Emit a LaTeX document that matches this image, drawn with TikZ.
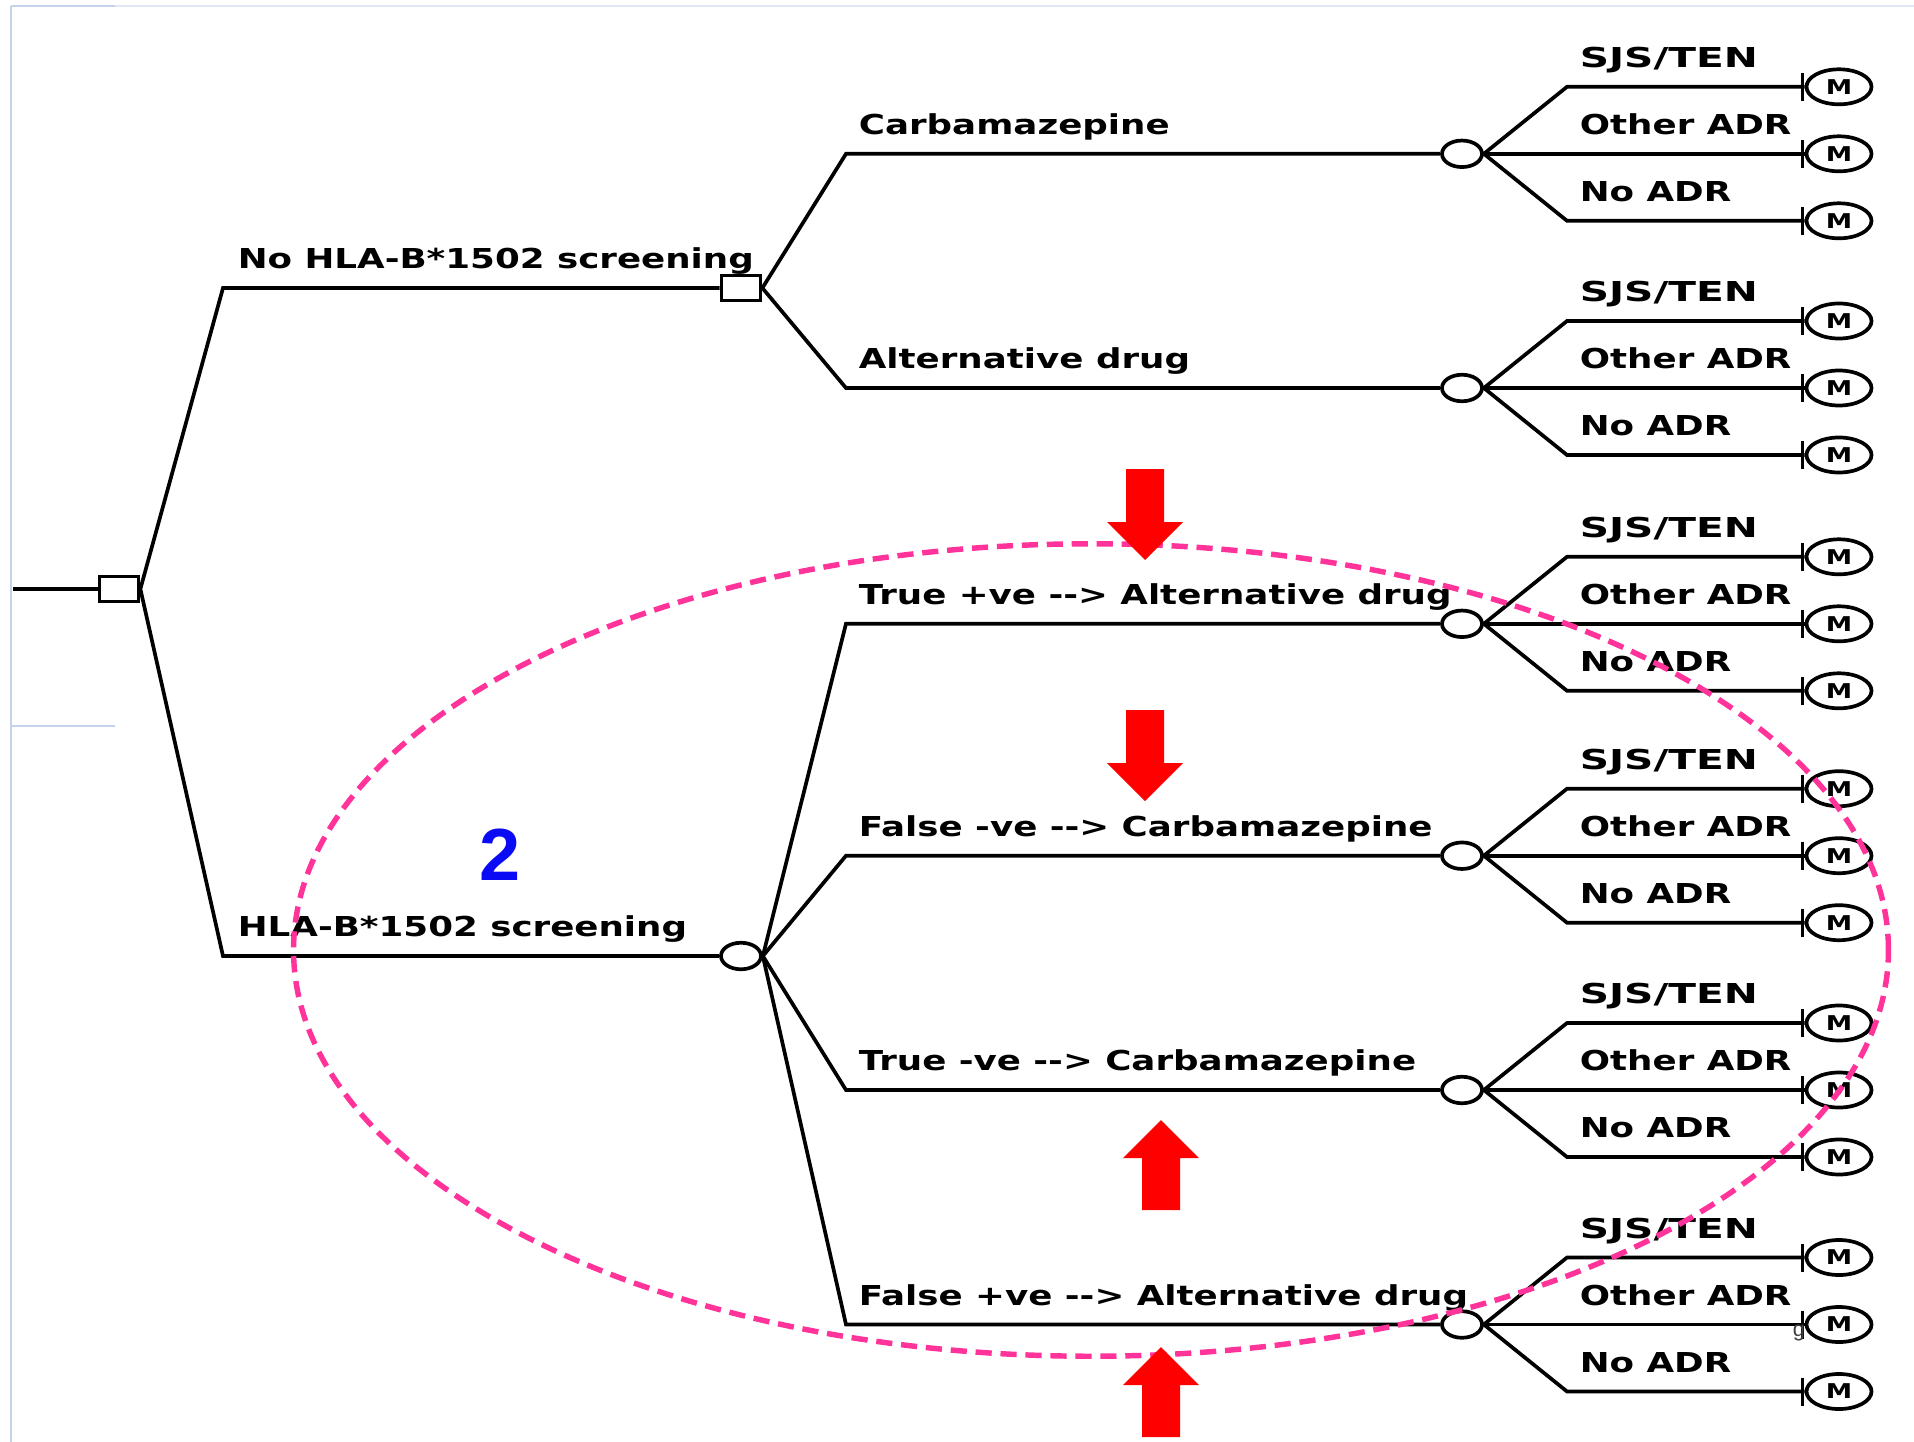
\documentclass[tikz,border=0pt]{standalone}
\usepackage{fontspec}
\usetikzlibrary{shapes.geometric}
\newfontfamily\lblfam{DejaVu Sans}[FakeStretch=1.3]
\newfontfamily\numfam{Liberation Sans}
\newcommand\lblfnt{\lblfam\bfseries\fontsize{7.8pt}{9pt}\selectfont}
\newcommand\trmfnt{\lblfam\bfseries\fontsize{5.8pt}{7pt}\selectfont}
\definecolor{framec}{RGB}{196,210,236}
\definecolor{framel}{RGB}{224,230,243}
\definecolor{pinkc}{RGB}{255,51,153}
\definecolor{bluec}{RGB}{10,10,245}
\begin{document}
\begin{tikzpicture}[x=0.01cm,y=-0.01cm,line width=1.05pt,
  dec/.style={draw,rectangle,minimum width=0.39cm,minimum height=0.25cm,inner sep=0pt},
  chn/.style={draw,ellipse,minimum width=0.40cm,minimum height=0.265cm,inner sep=0pt},
  term/.style={draw,ellipse,minimum width=0.65cm,minimum height=0.35cm,inner sep=0pt,font=\trmfnt},
  lab/.style={anchor=base west,inner sep=0pt,font=\lblfnt},
  redarrow/.style={fill=red,draw=none}]
\useasboundingbox (0,0) rectangle (1914,1442);
% faint frame lines
\draw[framel,line width=0.6pt] (11,6) -- (1914,6);
\draw[framec,line width=0.6pt] (11,6) -- (115,6);
\draw[framec,line width=0.6pt] (11,6) -- (11,1442);
\draw[framec,line width=0.6pt] (11,726) -- (115,726);

% root decision
\coordinate (start) at (13,589);
\node[dec] (root) at (119,589) {};
\draw (start) -- (root);
\node[dec] (d1) at (741,288) {};
\node[chn] (s2) at (741,956) {};
\coordinate (k1) at (223,288);
\coordinate (k2) at (223,956);
\draw (root.east) -- (k1) -- (d1);
\draw (root.east) -- (k2) -- (s2);
\node[lab] (ln1) at (236,268.5) {No HLA-B*1502 screening};
\node[lab] (ln2) at (236,936.5) {HLA-B*1502 screening};

% chance nodes and outcomes
\foreach \i/\y in {1/153.8,2/388,3/623.8,4/855.7,5/1090,6/1324.5}{
  \node[chn] (c\i) at (1462,\y) {};
  \coordinate (e\i) at (846,\y);
  \foreach \j/\dy/\txt in {a/-67/{\scalebox{1.14}[1]{SJS/TEN}},b/0/{Other ADR},c/67/{No ADR}}{
    \node[term] (t\i\j) at (1839,{\y+\dy}) {M};
    \coordinate (f\i\j) at (1567,{\y+\dy});
    \draw (c\i.east) -- (f\i\j) -- (t\i\j.west);
    \draw (t\i\j.west) +(-2,-14) -- +(-2,14);
    \node[lab] (l\i\j) at (1578,{\y+\dy-19.5}) {\txt};
  }
}
\draw (d1.east) -- (e1) -- (c1);
\draw (d1.east) -- (e2) -- (c2);
\draw (s2.east) -- (e3) -- (c3);
\draw (s2.east) -- (e4) -- (c4);
\draw (s2.east) -- (e5) -- (c5);
\draw (s2.east) -- (e6) -- (c6);

\node[lab] (m1) at (857,134.3) {Carbamazepine};
\node[lab] (m2) at (857,368.5) {Alternative drug};
\node[lab] (m3) at (857,604.3) {True +ve -\kern0pt-\kern0pt> Alternative drug};
\node[lab] (m4) at (857,836.2) {False -ve -\kern0pt-\kern0pt> Carbamazepine};
\node[lab] (m5) at (857,1070.5) {True -ve -\kern0pt-\kern0pt> Carbamazepine};
\node[lab] (m6) at (857,1305) {False +ve -\kern0pt-\kern0pt> Alternative drug};

% stray small g
\node[anchor=base west,inner sep=0pt,text=black!75,font=\numfam\fontsize{6.2pt}{7pt}\selectfont] (gg) at (1791,1336) {g};

% blue number
\node[anchor=base,inner sep=0pt,text=bluec,font=\numfam\bfseries\fontsize{21pt}{24pt}\selectfont] (num) at (500,880) {2};

% pink dashed ellipse
\draw[pinkc,line width=1.55pt,dash pattern=on 4.6pt off 2.5pt] (1091,950) ellipse [x radius=7.97cm, y radius=4.06cm];

% red arrows (down)
\foreach \cx/\yt in {1145/469,1145/710}{
  \fill[redarrow] ({\cx-19},\yt) -- ({\cx+19},\yt) -- ({\cx+19},{\yt+53}) -- ({\cx+38},{\yt+53})
    -- (\cx,{\yt+91}) -- ({\cx-38},{\yt+53}) -- ({\cx-19},{\yt+53}) -- cycle;
}
% red arrows (up)
\foreach \cx/\yb in {1161/1210,1161/1437}{
  \fill[redarrow] ({\cx-19},\yb) -- ({\cx+19},\yb) -- ({\cx+19},{\yb-52}) -- ({\cx+38},{\yb-52})
    -- (\cx,{\yb-90}) -- ({\cx-38},{\yb-52}) -- ({\cx-19},{\yb-52}) -- cycle;
}
\end{tikzpicture}
\end{document}
